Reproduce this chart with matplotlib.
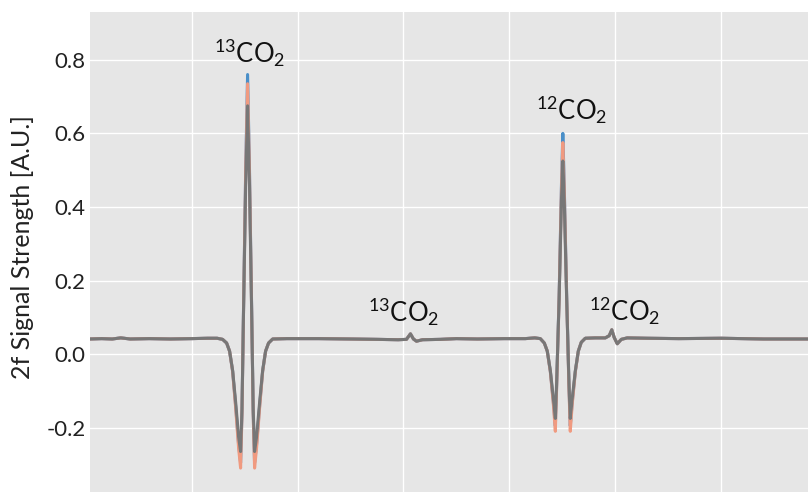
import matplotlib
matplotlib.use("Agg")
import matplotlib.pyplot as plt

plt.rcParams['font.family'] = ['Lato', 'DejaVu Sans']
plt.rcParams['mathtext.default'] = 'regular'
plt.rcParams['axes.unicode_minus'] = False

# wavelength scan position (arbitrary units)
x_pos = [4, 15, 25, 33, 42, 60, 80, 100, 115, 124,
         129.2, 133, 135.8, 138.7, 141.5, 144.3, 146.2, 147.5, 149, 151,
         152.8, 154.6, 156.6, 158.1, 159.4, 161.3, 164.2, 167, 169.8, 172.6,
         176.5, 190, 220, 250, 275, 295, 302.8, 306.6, 309.4, 312.3,
         318, 335, 350, 370, 395, 415, 424, 429.2, 433, 435.8,
         438.7, 441.5, 443.4, 444.6, 447, 449.2, 450.5, 451.8, 454.1, 456.3,
         457.5, 459.4, 462.3, 465.1, 467.9, 471.7, 481, 490.6, 494.3, 496.7,
         499, 501.9, 505.7, 511.3, 530, 560, 600, 640, 682]

# 2f signal, three overlapping scans
signal_gray = [0.041, 0.042, 0.041, 0.044, 0.041, 0.042, 0.041, 0.042, 0.043, 0.043,
               0.040, 0.030, 0.008, -0.045, -0.13, -0.225, -0.265, -0.15, 0.12, 0.46,
               0.675, 0.46, 0.12, -0.15, -0.265, -0.225, -0.13, -0.045, 0.008, 0.030,
               0.041, 0.042, 0.042, 0.041, 0.040, 0.039, 0.040, 0.055, 0.041, 0.035,
               0.039, 0.040, 0.042, 0.041, 0.042, 0.042, 0.044, 0.042, 0.030, 0.008,
               -0.045, -0.12, -0.175, -0.08, 0.15, 0.42, 0.525, 0.42, 0.15, -0.08,
               -0.175, -0.12, -0.045, 0.008, 0.032, 0.043, 0.044, 0.044, 0.050, 0.066,
               0.045, 0.028, 0.040, 0.044, 0.043, 0.042, 0.043, 0.041, 0.041]

signal_blue = [0.041, 0.042, 0.041, 0.044, 0.041, 0.042, 0.041, 0.042, 0.043, 0.043,
               0.040, 0.030, 0.008, -0.047, -0.14, -0.245, -0.295, -0.16, 0.13, 0.50,
               0.76, 0.50, 0.13, -0.16, -0.295, -0.245, -0.14, -0.047, 0.008, 0.030,
               0.041, 0.042, 0.042, 0.041, 0.040, 0.039, 0.040, 0.055, 0.041, 0.035,
               0.039, 0.040, 0.042, 0.041, 0.042, 0.042, 0.044, 0.042, 0.030, 0.008,
               -0.047, -0.13, -0.195, -0.09, 0.16, 0.46, 0.60, 0.46, 0.16, -0.09,
               -0.195, -0.13, -0.047, 0.008, 0.032, 0.043, 0.044, 0.044, 0.050, 0.066,
               0.045, 0.028, 0.040, 0.044, 0.043, 0.042, 0.043, 0.041, 0.041]

signal_orange = [0.041, 0.042, 0.041, 0.044, 0.041, 0.042, 0.041, 0.042, 0.043, 0.043,
                 0.040, 0.030, 0.008, -0.048, -0.145, -0.255, -0.31, -0.165, 0.125, 0.49,
                 0.735, 0.49, 0.125, -0.165, -0.31, -0.255, -0.145, -0.048, 0.008, 0.030,
                 0.041, 0.042, 0.042, 0.041, 0.040, 0.039, 0.040, 0.055, 0.041, 0.035,
                 0.039, 0.040, 0.042, 0.041, 0.042, 0.042, 0.044, 0.042, 0.030, 0.008,
                 -0.048, -0.135, -0.21, -0.095, 0.155, 0.45, 0.575, 0.45, 0.155, -0.095,
                 -0.21, -0.135, -0.048, 0.008, 0.032, 0.043, 0.044, 0.044, 0.050, 0.066,
                 0.045, 0.028, 0.040, 0.044, 0.043, 0.042, 0.043, 0.041, 0.041]

x_grid = [100, 200, 300, 400, 500, 600]
y_ticks = [-0.2, 0.0, 0.2, 0.4, 0.6, 0.8]
y_tick_labels = ['-0.2', '0.0', '0.2', '0.4', '0.6', '0.8']

labels = [r'$^{13}$CO$_2$', r'$^{12}$CO$_2$', r'$^{13}$CO$_2$', r'$^{12}$CO$_2$']
label_x = [154.5, 459, 300, 508.5]
label_y = [0.792, 0.638, 0.087, 0.09]

fig = plt.figure(figsize=(8.08, 4.92), dpi=100)
ax = fig.add_axes([0.1114, 0.0, 0.8886, 0.9756])
ax.set_facecolor('#e6e6e6')

ax.plot(x_pos, signal_blue, color='#4a8fc8', lw=2.2, solid_joinstyle='round')
ax.plot(x_pos, signal_orange, color='#f09a80', lw=2.2, solid_joinstyle='round')
ax.plot(x_pos, signal_gray, color='#777777', lw=2.2, solid_joinstyle='round')

for txt, lx, ly in zip(labels, label_x, label_y):
    ax.text(lx, ly, txt, ha='center', va='baseline', fontsize=18.5, color='#111111')

ax.set_xlim(4, 682)
ax.set_ylim(-0.375, 0.93)
ax.set_xticks(x_grid)
ax.set_xticklabels([])
ax.set_yticks(y_ticks)
ax.set_yticklabels(y_tick_labels, fontsize=16)
ax.tick_params(length=0, pad=3, colors='#222222')
ax.grid(True, color='white', lw=1.0)
ax.set_axisbelow(True)
for s in ax.spines.values():
    s.set_visible(False)

ax.set_ylabel('2f Signal Strength [A.U.]', fontsize=18, color='#222222')
ax.yaxis.set_label_coords(-0.078, 0.51)

fig.savefig('out.png', dpi=100)
